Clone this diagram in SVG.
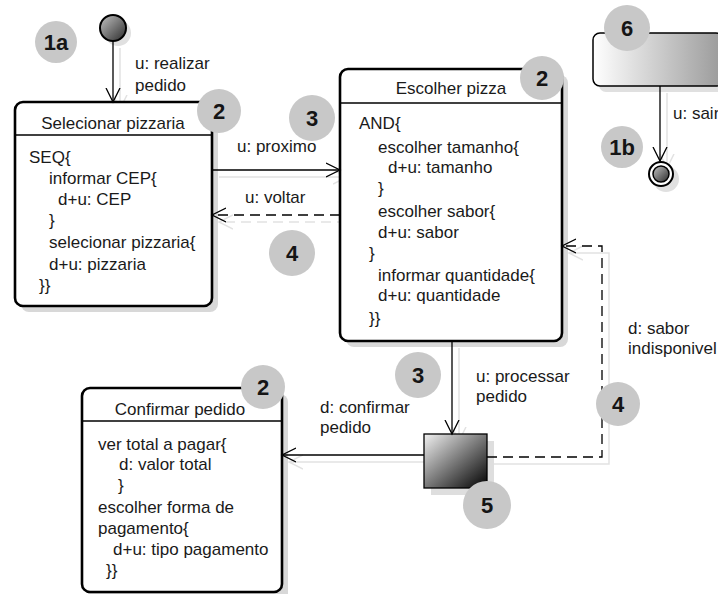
<svg xmlns="http://www.w3.org/2000/svg" width="718" height="594" viewBox="0 0 718 594">
<style>
.t{font-family:"Liberation Sans",Arial,sans-serif;font-size:17px;fill:#1a1a1a}
.m{text-anchor:middle}
.b circle{fill:#c8c8c8}
.b text{font-family:"Liberation Sans",Arial,sans-serif;font-weight:bold;font-size:22px;text-anchor:middle;fill:#151515}
.box{fill:#fff;stroke:#000;stroke-width:2.6}
.hl{stroke:#000;stroke-width:1.3}
.sh{fill:#d8d8d8}
.c{fill:none;stroke:#000;stroke-width:1.3}
.cs{fill:none;stroke:#e2e2e2;stroke-width:1.5}
.d{stroke-dasharray:10 6}
</style>
<defs>
<marker id="a" markerUnits="userSpaceOnUse" markerWidth="16" markerHeight="16" refX="14" refY="7" orient="auto" viewBox="0 0 16 14">
<path d="M0,0 L14,7 L0,14" fill="none" stroke="#000" stroke-width="1.3" stroke-dasharray="none"/>
</marker>
<marker id="as" markerUnits="userSpaceOnUse" markerWidth="16" markerHeight="16" refX="14" refY="7" orient="auto" viewBox="0 0 16 14">
<path d="M0,0 L14,7 L0,14" fill="none" stroke="#e2e2e2" stroke-width="1.5" stroke-dasharray="none"/>
</marker>
<linearGradient id="gc" x1="0" y1="0" x2="1" y2="1">
<stop offset="0" stop-color="#c4c4c4"/><stop offset="1" stop-color="#2a2a2a"/>
</linearGradient>
<linearGradient id="gs" x1="0" y1="0" x2="1" y2="1">
<stop offset="0" stop-color="#f2f2f2"/><stop offset="1" stop-color="#000"/>
</linearGradient>
<linearGradient id="g6" x1="0" y1="0" x2="1" y2="0">
<stop offset="0" stop-color="#ffffff"/><stop offset="1" stop-color="#9a9a9a"/>
</linearGradient>
</defs>

<!-- connector shadows -->
<g id="connector-shadows" transform="translate(7,7)">
<path class="cs" d="M113,41 V102" marker-end="url(#as)"/>
<path class="cs" d="M212,170 H340" marker-end="url(#as)"/>
<path class="cs d" d="M340,215 H212" marker-end="url(#as)"/>
<path class="cs" d="M452,341 V434" marker-end="url(#as)"/>
<path class="cs" d="M424,455 H282" marker-end="url(#as)"/>
<path class="cs" d="M487,457 H602 V246 H562" marker-end="url(#as)"/>
<path class="cs" d="M660,86 V161" marker-end="url(#as)"/>
</g>

<g id="start">
<circle cx="118" cy="33" r="13" fill="#e0e0e0"/>
<circle cx="113" cy="28" r="13" fill="url(#gc)" stroke="#000" stroke-width="2"/>
</g>

<g id="selecionar-pizzaria">
<rect class="sh" x="21" y="108" width="197" height="204" rx="8"/>
<rect class="box" x="15" y="102" width="197" height="204" rx="8"/>
<line class="hl" x1="15" y1="135" x2="212" y2="135"/>
<text class="t m" x="113" y="129">Selecionar pizzaria</text>
<text class="t" x="29" y="163">SEQ{</text>
<text class="t" x="49" y="184">informar CEP{</text>
<text class="t" x="58" y="205">d+u: CEP</text>
<text class="t" x="49" y="226">}</text>
<text class="t" x="49" y="248">selecionar pizzaria{</text>
<text class="t" x="49" y="270">d+u: pizzaria</text>
<text class="t" x="39" y="291">}}</text>
</g>

<g id="escolher-pizza">
<rect class="sh" x="346" y="75" width="222" height="272" rx="8"/>
<rect class="box" x="340" y="69" width="222" height="272" rx="8"/>
<line class="hl" x1="340" y1="103" x2="562" y2="103"/>
<text class="t m" x="451" y="94">Escolher pizza</text>
<text class="t" x="359" y="129">AND{</text>
<text class="t" x="378" y="153">escolher tamanho{</text>
<text class="t" x="388" y="173">d+u: tamanho</text>
<text class="t" x="378" y="194">}</text>
<text class="t" x="378" y="217">escolher sabor{</text>
<text class="t" x="378" y="238">d+u: sabor</text>
<text class="t" x="369" y="259">}</text>
<text class="t" x="378" y="281">informar quantidade{</text>
<text class="t" x="378" y="301">d+u: quantidade</text>
<text class="t" x="369" y="324">}}</text>
</g>

<g id="confirmar-pedido">
<rect class="sh" x="88" y="394" width="200" height="210" rx="8"/>
<rect class="box" x="82" y="388" width="200" height="204" rx="8"/>
<line class="hl" x1="82" y1="421" x2="282" y2="421"/>
<text class="t m" x="180" y="415">Confirmar pedido</text>
<text class="t" x="98" y="450">ver total a pagar{</text>
<text class="t" x="119" y="470">d: valor total</text>
<text class="t" x="118" y="491">}</text>
<text class="t" x="98" y="513">escolher forma de</text>
<text class="t" x="98" y="534">pagamento{</text>
<text class="t" x="113" y="555">d+u: tipo pagamento</text>
<text class="t" x="106" y="576">}}</text>
</g>

<g id="processar">
<rect x="431" y="441" width="63" height="54" fill="#dedede"/>
<rect x="424" y="434" width="63" height="54" fill="url(#gs)" stroke="#000" stroke-width="1.3"/>
</g>

<g id="state-6">
<rect x="599" y="39" width="130" height="53" rx="7" fill="#e0e0e0"/>
<rect x="593" y="33" width="130" height="53" rx="7" fill="url(#g6)" stroke="#000" stroke-width="1.5"/>
</g>

<g id="final">
<circle cx="666" cy="179" r="13" fill="#e0e0e0"/>
<circle cx="661" cy="174" r="12" fill="#fff" stroke="#000" stroke-width="2"/>
<circle cx="661" cy="174" r="8" fill="url(#gc)" stroke="#000" stroke-width="1.5"/>
</g>

<g id="connectors">
<path class="c" d="M113,41 V102" marker-end="url(#a)"/>
<path class="c" d="M212,170 H340" marker-end="url(#a)"/>
<path class="c d" d="M340,215 H212" marker-end="url(#a)"/>
<path class="c" d="M452,341 V434" marker-end="url(#a)"/>
<path class="c" d="M424,455 H282" marker-end="url(#a)"/>
<path class="c d" d="M487,457 H602 V246 H562" marker-end="url(#a)"/>
<path class="c" d="M660,86 V161" marker-end="url(#a)"/>
<text class="t" x="135" y="69">u: realizar</text>
<text class="t" x="135" y="91">pedido</text>
<text class="t" x="237" y="152">u: proximo</text>
<text class="t" x="245" y="203">u: voltar</text>
<text class="t" x="476" y="382">u: processar</text>
<text class="t" x="476" y="402">pedido</text>
<text class="t" x="320" y="413">d: confirmar</text>
<text class="t" x="320" y="433">pedido</text>
<text class="t" x="628" y="334">d: sabor</text>
<text class="t" x="628" y="354">indisponivel</text>
<text class="t" x="673" y="119">u: sair</text>
</g>

<g id="badges" class="b">
<g id="b-1a"><circle cx="56" cy="42" r="21"/><text x="56" y="50">1a</text></g>
<g id="b-2a"><circle cx="219" cy="111" r="22"/><text x="219" y="119">2</text></g>
<g id="b-3a"><circle cx="312" cy="118" r="23"/><text x="312" y="126">3</text></g>
<g id="b-4a"><circle cx="292" cy="253" r="23"/><text x="292" y="261">4</text></g>
<g id="b-2b"><circle cx="542" cy="78" r="22"/><text x="542" y="86">2</text></g>
<g id="b-6"><circle cx="627" cy="28" r="23"/><text x="627" y="36">6</text></g>
<g id="b-1b"><circle cx="622" cy="147" r="21"/><text x="622" y="155">1b</text></g>
<g id="b-3b"><circle cx="418" cy="375" r="23"/><text x="418" y="383">3</text></g>
<g id="b-2c"><circle cx="263" cy="387" r="22"/><text x="263" y="395">2</text></g>
<g id="b-4b"><circle cx="618" cy="404" r="22"/><text x="618" y="412">4</text></g>
<g id="b-5"><circle cx="487" cy="505" r="24"/><text x="487" y="513">5</text></g>
</g>
</svg>
